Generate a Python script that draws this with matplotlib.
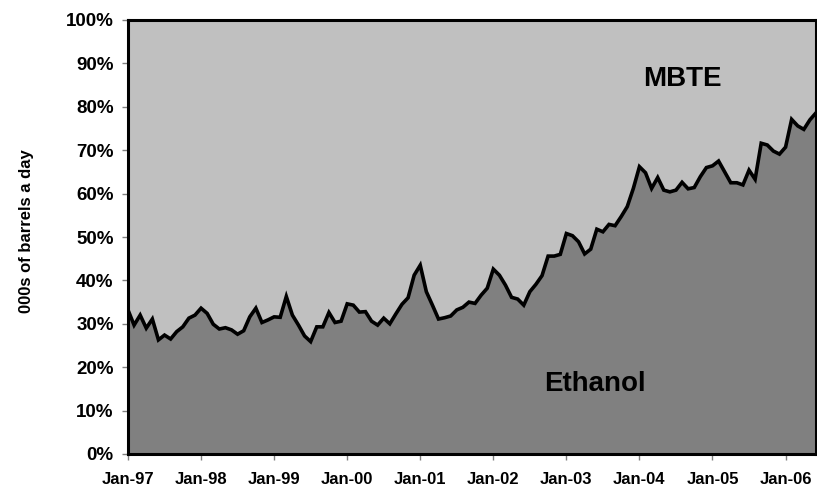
import matplotlib
matplotlib.use("Agg")
import matplotlib.pyplot as plt
import numpy as np

plt.rcParams['font.family'] = ['Liberation Sans', 'DejaVu Sans']

# Ethanol share (%) monthly, Jan-97 .. Jun-06
ethanol_share = [
    33.2, 29.7, 32.0, 29.0, 31.1, 26.3, 27.4, 26.5, 28.2, 29.3, 31.3, 32.0,
    33.6, 32.4, 29.9, 28.8, 29.1, 28.6, 27.6, 28.4, 31.6, 33.6, 30.3, 30.9,
    31.6, 31.5, 36.3, 32.0, 29.7, 27.2, 25.9, 29.3, 29.3, 32.6, 30.3, 30.6,
    34.6, 34.3, 32.7, 32.8, 30.6, 29.7, 31.3, 30.0, 32.3, 34.5, 36.0, 41.2,
    43.5, 37.4, 34.3, 31.1, 31.4, 31.8, 33.2, 33.8, 35.0, 34.7, 36.6, 38.2,
    42.6, 41.2, 38.9, 36.1, 35.7, 34.3, 37.4, 39.1, 41.1, 45.6, 45.6, 46.0,
    50.8, 50.3, 48.9, 46.1, 47.2, 51.8, 51.2, 52.9, 52.6, 54.7, 57.0, 61.2,
    66.2, 64.8, 61.2, 63.7, 60.8, 60.4, 60.8, 62.6, 61.1, 61.4, 63.9, 66.0,
    66.4, 67.5, 65.0, 62.5, 62.5, 62.0, 65.4, 63.3, 71.6, 71.2, 69.8, 69.1,
    70.7, 77.1, 75.6, 74.8, 77.0, 78.6,
]
tick_labels = ['Jan-97', 'Jan-98', 'Jan-99', 'Jan-00', 'Jan-01',
               'Jan-02', 'Jan-03', 'Jan-04', 'Jan-05', 'Jan-06']
ytick_vals = [0, 10, 20, 30, 40, 50, 60, 70, 80, 90, 100]
series_names = ['Ethanol', 'MBTE']

x = np.arange(len(ethanol_share))
eth = np.array(ethanol_share)

fig = plt.figure(figsize=(8.17, 4.93), dpi=100)
ax = fig.add_axes([128/817, 39/493, 688/817, 434/493])

ax.fill_between(x, eth, 100, color='#C0C0C0', lw=0)
ax.fill_between(x, 0, eth, color='#808080', lw=0)
ax.plot(x, eth, color='black', lw=2.6, solid_joinstyle='miter')

ax.set_xlim(0, len(x) - 1)
ax.set_ylim(0, 100)
ax.set_xticks(np.arange(0, 12 * len(tick_labels), 12))
ax.set_xticklabels(tick_labels, fontsize=12, fontweight='bold')
ax.set_yticks(ytick_vals)
ax.set_yticklabels([f'{v}%' for v in ytick_vals], fontsize=13.5, fontweight='bold')
ax.tick_params(axis='both', direction='out', length=4.3, width=1, color='#808080')
ax.tick_params(axis='x', pad=9)
ax.tick_params(axis='y', pad=6)

for s in ax.spines.values():
    s.set_color('black')
    s.set_linewidth(2.2)

ax.set_ylabel('000s of barrels a day', fontsize=12, fontweight='bold')
ax.yaxis.set_label_coords(-(128 - 34) / 688, 0.513)

ax.text(91.1, 86.3, series_names[1], fontsize=20, fontweight='bold', ha='center', va='center')
ax.text(76.7, 16.1, series_names[0], fontsize=20, fontweight='bold', ha='center', va='center')

fig.savefig('out.png', dpi=100)
